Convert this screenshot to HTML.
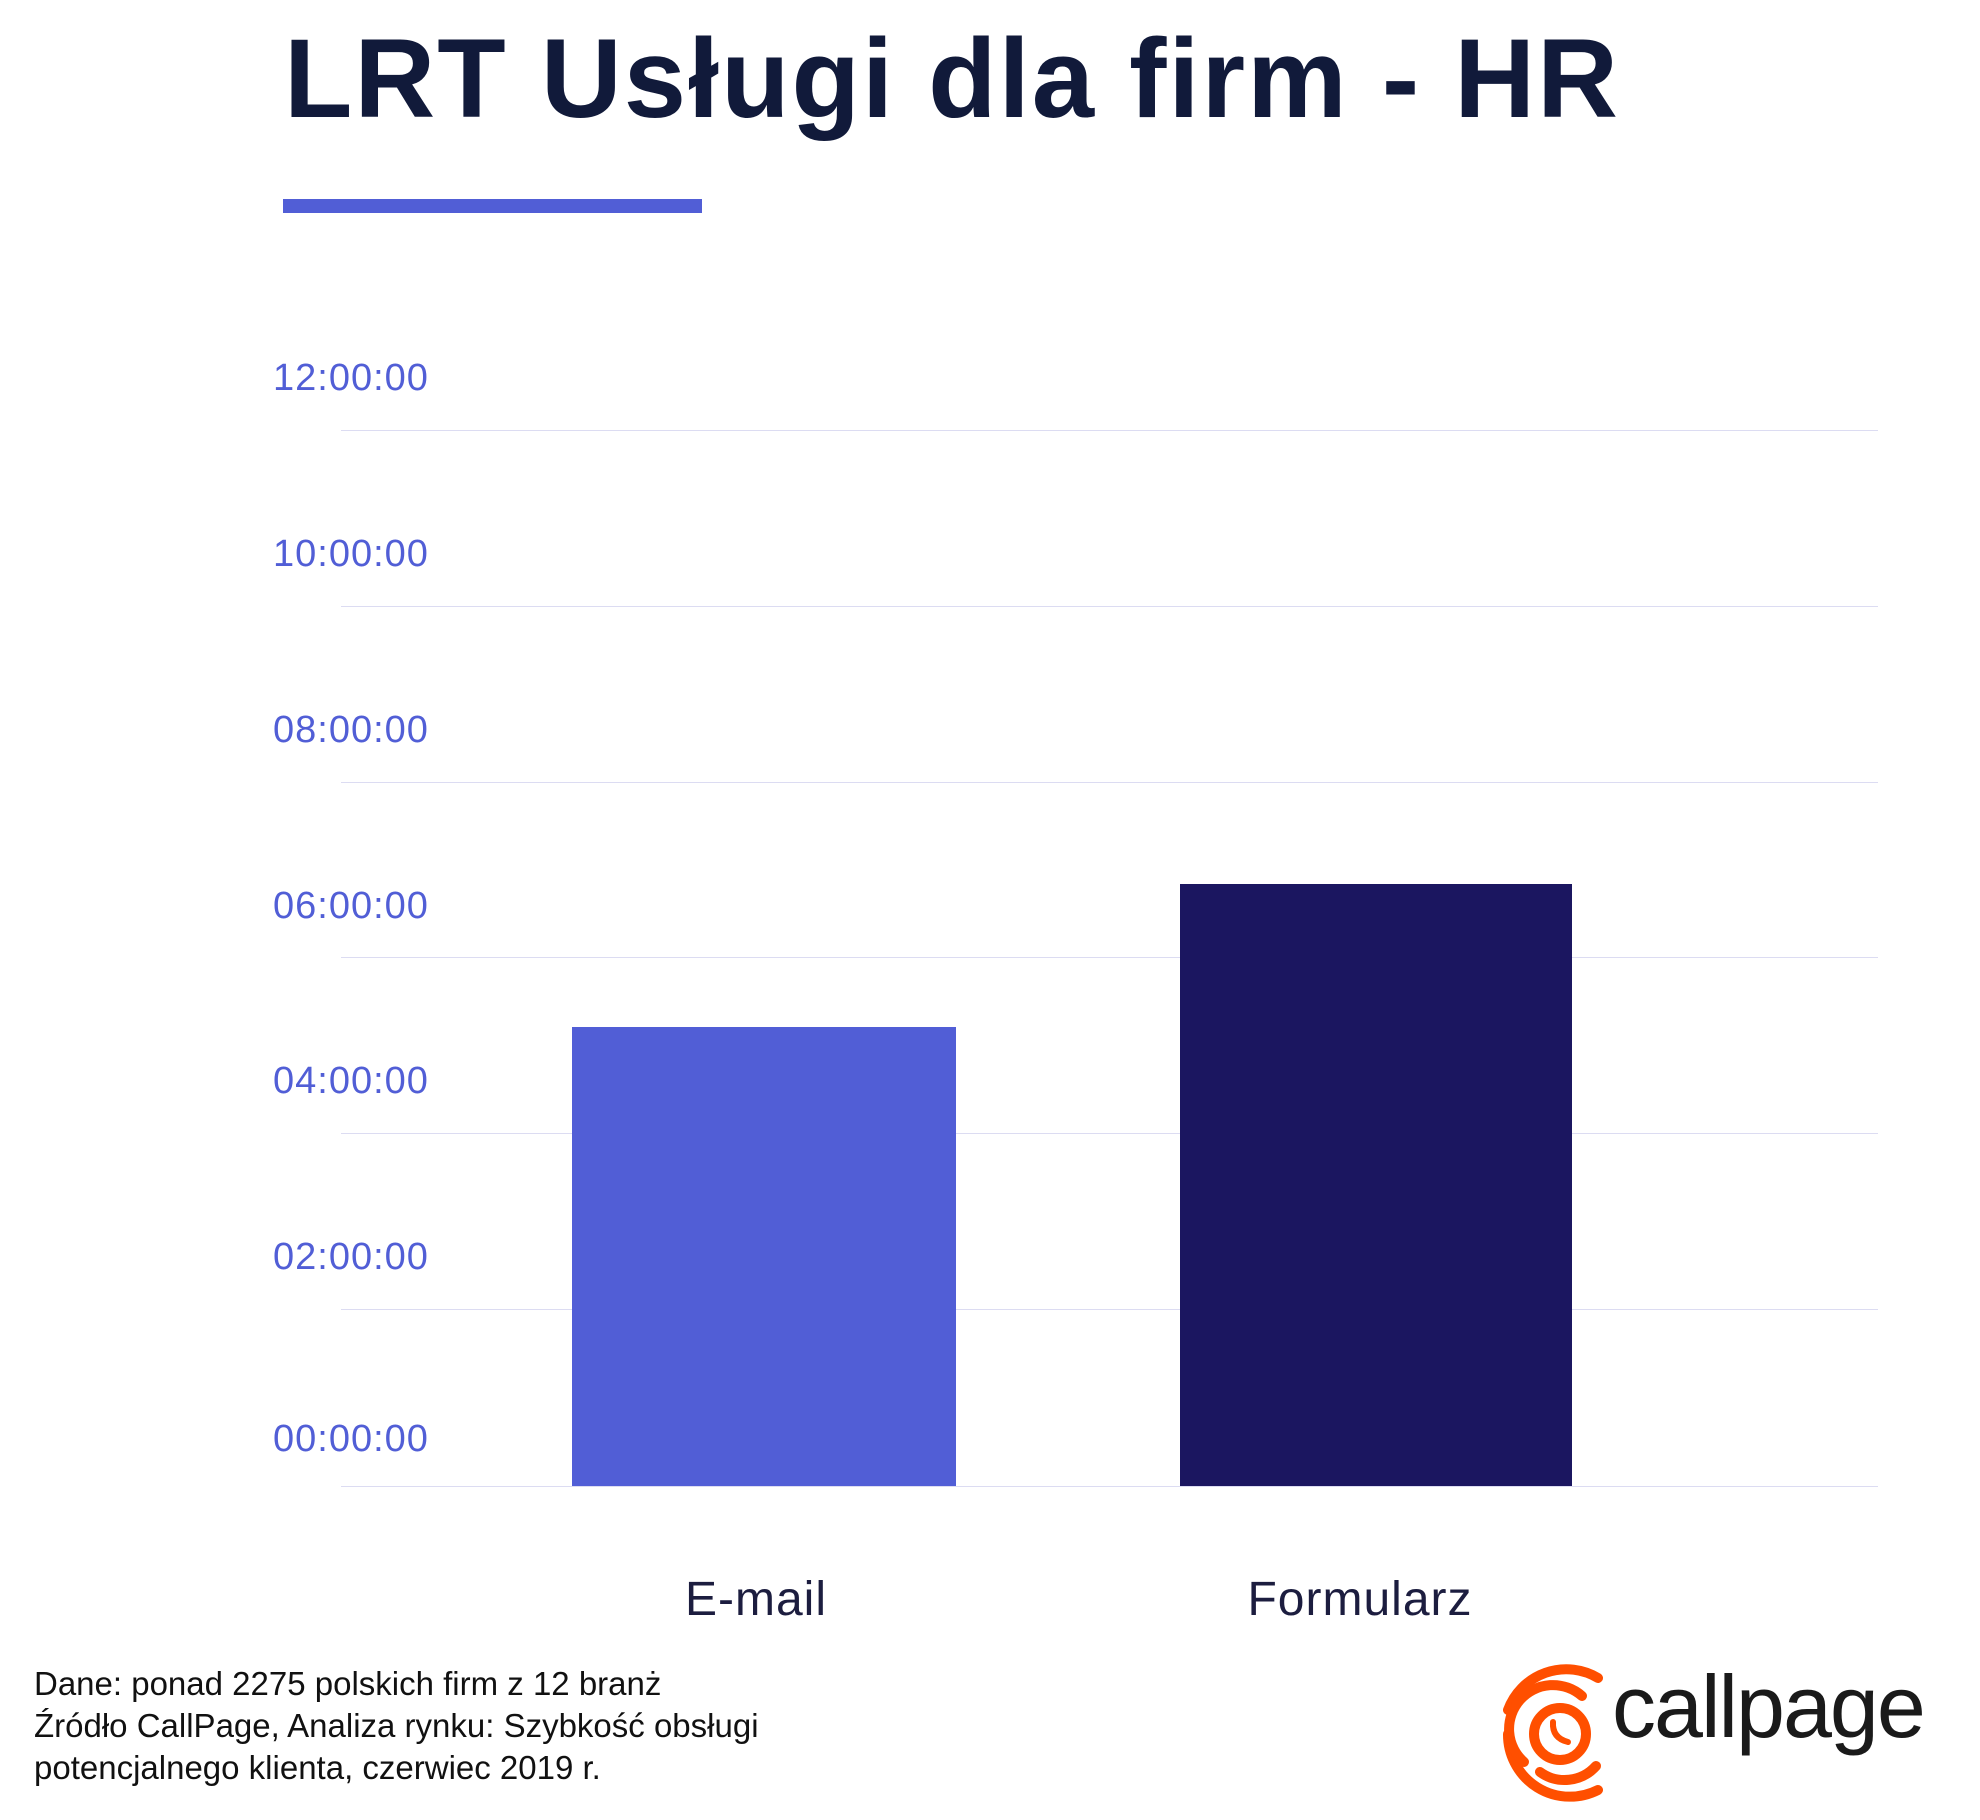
<!DOCTYPE html>
<html><head><meta charset="utf-8"><style>
body{margin:0;width:1980px;height:1820px;background:#fff;position:relative;overflow:hidden;font-family:"Liberation Sans",sans-serif}
.a{position:absolute}
.t{left:284px;top:14px;font-size:112px;font-weight:bold;color:#111a3a;letter-spacing:2px;white-space:nowrap}
.g{left:341px;width:1537px;height:1px;background:#dcdcf2}
.yl{left:273px;font-size:38px;color:#515ed6;white-space:nowrap;letter-spacing:1px}
.cl{font-size:48px;color:#1c1d3f;white-space:nowrap;transform:translateX(-50%);letter-spacing:1px}
.f{left:34px;top:1663px;font-size:33px;line-height:42px;color:#111}
</style></head><body>
<div class="a t">LRT Usługi dla firm - HR</div>
<div class="a" style="left:283px;top:199px;width:419px;height:14px;background:#515ed6"></div>
<div class="a g" style="top:430px"></div>
<div class="a g" style="top:606px"></div>
<div class="a g" style="top:782px"></div>
<div class="a g" style="top:957px"></div>
<div class="a g" style="top:1133px"></div>
<div class="a g" style="top:1309px"></div>
<div class="a g" style="top:1486px"></div>
<div class="a yl" style="top:357px">12:00:00</div>
<div class="a yl" style="top:533px">10:00:00</div>
<div class="a yl" style="top:709px">08:00:00</div>
<div class="a yl" style="top:885px">06:00:00</div>
<div class="a yl" style="top:1060px">04:00:00</div>
<div class="a yl" style="top:1236px">02:00:00</div>
<div class="a yl" style="top:1418px">00:00:00</div>
<div class="a" style="left:572px;top:1027px;width:384px;height:459px;background:#515ed6"></div>
<div class="a" style="left:1180px;top:884px;width:392px;height:602px;background:#1b1660"></div>
<div class="a cl" style="left:756px;top:1572px">E-mail</div>
<div class="a cl" style="left:1360px;top:1572px">Formularz</div>
<div class="a f">Dane: ponad 2275 polskich firm z 12 branż<br>Źródło CallPage, Analiza rynku: Szybkość obsługi<br>potencjalnego klienta, czerwiec 2019 r.</div>
<svg class="a" style="left:1500px;top:1662px" width="110" height="140" viewBox="0 0 110 140">
<g fill="none" stroke="#ff4f00" stroke-width="10" stroke-linecap="round">
<path d="M98 16 A62 62 0 0 0 8 48"/>
<path d="M8 72 A62 62 0 0 0 98 128"/>
<path d="M82 34 A42 42 0 0 0 24 100"/>
<path d="M40 110 A42 42 0 0 0 96 104"/>
<circle cx="60" cy="72" r="26"/>
</g>
<path d="M53 60 Q52 76 68 80" fill="none" stroke="#ff4f00" stroke-width="6" stroke-linecap="round"/>
</svg>
<div class="a" style="left:1612px;top:1656px;font-size:88px;color:#1a1a1a;letter-spacing:-2px">callpage</div>
</body></html>
